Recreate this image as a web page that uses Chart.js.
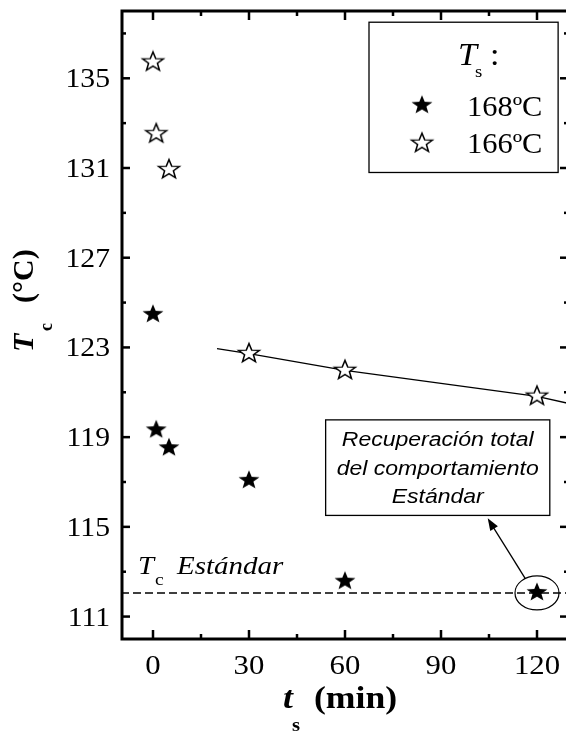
<!DOCTYPE html>
<html>
<head>
<meta charset="utf-8">
<script src="https://cdn.jsdelivr.net/npm/chart.js@4.4.1/dist/chart.umd.min.js"></script>
<style>
  html, body { margin: 0; padding: 0; background: #fff; overflow: hidden; }
  #wrap { position: absolute; left: 0; top: 0; width: 580px; height: 731px; }
</style>
</head>
<body>
<div id="wrap"><canvas id="c" width="580" height="731"></canvas></div>
<script>
// ---- data ----
const tsFilled = [0, 1, 5, 30, 60, 120];                 // Ts = 168 ºC
const tcFilled = [124.5, 119.35, 118.55, 117.1, 112.6, 112.1];
const tsOpen = [0, 1, 5, 30, 60, 120];                   // Ts = 166 ºC
const tcOpen = [135.75, 132.55, 130.95, 122.75, 122.0, 120.85];
const fitTs = [20, 30, 60, 120, 130];                    // trend line through 166 ºC points
const fitTc = [122.95, 122.72, 121.98, 120.82, 120.5];
const standardTc = 112.05;                              // Tc Estándar
const xTicks = [0, 30, 60, 90, 120];
const xMinorTicks = [15, 45, 75, 105];
const yTicks = [111, 115, 119, 123, 127, 131, 135];
const yMinorTicks = [113, 117, 121, 125, 129, 133, 137];
const xMin = -10, xMax = 130, yMin = 110, yMax = 138;
const seriesLabels = ['168ºC', '166ºC'];
const noteLines = ['Recuperación total', 'del comportamiento', 'Estándar'];

const SERIF = '"Liberation Serif", "Times New Roman", serif';
const SANS = '"Liberation Sans", Arial, sans-serif';

function starPath(g, R, r) {
  g.beginPath();
  for (let i = 0; i < 10; i++) {
    const a = -Math.PI / 2 + i * Math.PI / 5;
    const rad = i % 2 ? r : R;
    g.lineTo(rad * Math.cos(a), rad * Math.sin(a));
  }
  g.closePath();
}
function makeStar(filled) {
  const c = document.createElement('canvas');
  c.width = 26; c.height = 24;
  const g = c.getContext('2d');
  g.translate(13, 12.5);
  g.scale(1.1, 1);
  starPath(g, 10, 4.2);
  if (filled) { g.fillStyle = '#000'; g.fill(); }
  else { g.fillStyle = '#fff'; g.fill(); g.lineWidth = 1.4; g.strokeStyle = '#000'; g.stroke(); }
  return c;
}
const starFilled = makeStar(true);
const starOpen = makeStar(false);

function txt(ctx, s, x, y, font, align, sx) {
  ctx.save();
  ctx.font = font;
  ctx.textAlign = align || 'left';
  ctx.textBaseline = 'alphabetic';
  ctx.fillStyle = '#000';
  ctx.translate(x, y);
  ctx.scale(sx || 1, 1);
  ctx.fillText(s, 0, 0);
  ctx.restore();
}

const decor = {
  id: 'decor',
  afterDraw(chart) {
    const ctx = chart.ctx;
    const a = chart.chartArea;
    const xs = chart.scales.x, ys = chart.scales.y;
    const px = v => xs.getPixelForValue(v);
    const py = v => ys.getPixelForValue(v);
    ctx.save();
    ctx.strokeStyle = '#000';
    ctx.fillStyle = '#000';

    // inward ticks on all four sides
    ctx.lineWidth = 2.5;
    const tick = (x1, y1, x2, y2) => { ctx.beginPath(); ctx.moveTo(x1, y1); ctx.lineTo(x2, y2); ctx.stroke(); };
    xTicks.forEach(v => { const x = px(v); tick(x, a.bottom, x, a.bottom - 9); tick(x, a.top, x, a.top + 9); });
    xMinorTicks.forEach(v => { const x = px(v); tick(x, a.bottom, x, a.bottom - 5); tick(x, a.top, x, a.top + 5); });
    yTicks.forEach(v => { const y = py(v); tick(a.left, y, a.left + 9, y); tick(a.right, y, a.right - 9, y); });
    yMinorTicks.forEach(v => { const y = py(v); tick(a.left, y, a.left + 5, y); tick(a.right, y, a.right - 5, y); });

    // frame
    ctx.lineWidth = 3;
    ctx.strokeRect(a.left + 1, a.top, a.right - a.left - 1, a.bottom - a.top);

    // tick labels
    xs.ticks.forEach(t => txt(ctx, String(t.value), px(t.value), a.bottom + 35, '27px ' + SERIF, 'center', 1.14));
    ys.ticks.forEach(t => txt(ctx, String(t.value), a.left - 11, py(t.value) + 9, '27px ' + SERIF, 'right', 1.1));

    // axis titles
    txt(ctx, 't', 283, 708, 'bold italic 31px ' + SERIF, 'left', 1.15);
    txt(ctx, 's', 292, 731, 'bold 18px ' + SERIF, 'left', 1.15);
    txt(ctx, '(min)', 314, 708, 'bold 31px ' + SERIF, 'left', 1.15);

    ctx.save();
    ctx.translate(33, 352);
    ctx.rotate(-Math.PI / 2);
    txt(ctx, 'T', 0, 0, 'bold italic 30px ' + SERIF, 'left', 1);
    txt(ctx, 'c', 21, 19, 'bold 18px ' + SERIF, 'left', 1);
    txt(ctx, '(°C)', 49, 0, 'bold 30px ' + SERIF, 'left', 1);
    ctx.restore();

    // Tc Estándar label
    const ly = py(standardTc);
    txt(ctx, 'T', 138, ly - 19, 'italic 25px ' + SERIF, 'left', 1.15);
    txt(ctx, 'c', 155, ly - 8, '17px ' + SERIF, 'left', 1.15);
    txt(ctx, 'Estándar', 177, ly - 19, 'italic 25px ' + SERIF, 'left', 1.16);

    // ellipse around recovered point
    const ex = px(tsFilled[5]), ey = py(tcFilled[5]) + 1;
    ctx.lineWidth = 1.2;
    ctx.beginPath();
    ctx.ellipse(ex, ey, 22, 17, 0, 0, Math.PI * 2);
    ctx.stroke();

    // annotation box
    const bx1 = px(53.95), bx2 = px(124.0), by1 = py(119.77), by2 = py(115.51);
    ctx.lineWidth = 1.3;
    ctx.strokeRect(bx1, by1, bx2 - bx1, by2 - by1);
    const cx = (bx1 + bx2) / 2;
    txt(ctx, noteLines[0], cx, by1 + 26, 'italic 20px ' + SANS, 'center', 1.15);
    txt(ctx, noteLines[1], cx, by1 + 55, 'italic 20px ' + SANS, 'center', 1.15);
    txt(ctx, noteLines[2], cx, by1 + 83, 'italic 20px ' + SANS, 'center', 1.15);

    // arrow
    const tx = px(116.4), ty = py(112.68), hx = px(104.6), hy = py(115.38);
    const dx = hx - tx, dy = hy - ty, L = Math.hypot(dx, dy), ux = dx / L, uy = dy / L;
    ctx.lineWidth = 1.3;
    ctx.beginPath(); ctx.moveTo(tx, ty); ctx.lineTo(hx - ux * 8, hy - uy * 8); ctx.stroke();
    ctx.beginPath();
    ctx.moveTo(hx, hy);
    ctx.lineTo(hx - ux * 12 - uy * 4.5, hy - uy * 12 + ux * 4.5);
    ctx.lineTo(hx - ux * 12 + uy * 4.5, hy - uy * 12 - ux * 4.5);
    ctx.closePath(); ctx.fill();

    // legend box
    const lx1 = px(67.5), lx2 = px(126.6), ly1 = py(137.5), ly2 = py(130.8);
    ctx.lineWidth = 1.3;
    ctx.fillStyle = '#fff';
    ctx.fillRect(lx1, ly1, lx2 - lx1, ly2 - ly1);
    ctx.strokeRect(lx1, ly1, lx2 - lx1, ly2 - ly1);
    ctx.fillStyle = '#000';
    txt(ctx, 'T', lx1 + 89, ly1 + 43, 'italic 31px ' + SERIF, 'left', 1.1);
    txt(ctx, 's', lx1 + 106, ly1 + 55, '17px ' + SERIF, 'left', 1.1);
    txt(ctx, ':', lx1 + 121, ly1 + 43, '31px ' + SERIF, 'left', 1.1);
    ctx.drawImage(starFilled, lx1 + 53 - 13, ly1 + 83 - 12.5);
    ctx.drawImage(starOpen, lx1 + 53 - 13, ly1 + 121 - 12.5);
    txt(ctx, seriesLabels[0], lx1 + 98, ly1 + 94, '29px ' + SERIF, 'left', 1.05);
    txt(ctx, seriesLabels[1], lx1 + 98, ly1 + 131, '29px ' + SERIF, 'left', 1.05);

    ctx.restore();
  }
};

const toXY = (xs, ys) => xs.map((x, i) => ({ x, y: ys[i] }));

new Chart(document.getElementById('c'), {
  type: 'scatter',
  data: {
    datasets: [
      {
        label: seriesLabels[0], data: toXY(tsFilled, tcFilled),
        pointStyle: starFilled, pointRadius: 10, showLine: false, order: 0
      },
      {
        label: seriesLabels[1], data: toXY(tsOpen, tcOpen),
        pointStyle: starOpen, pointRadius: 10, showLine: false, order: 0
      },
      {
        label: 'fit', data: toXY(fitTs, fitTc), showLine: true,
        borderColor: '#000', borderWidth: 1.3, pointRadius: 0, tension: 0, order: 1
      },
      {
        label: 'std', data: [{ x: xMin, y: standardTc }, { x: xMax, y: standardTc }], showLine: true,
        borderColor: '#000', borderWidth: 1.4, borderDash: [8, 4], pointRadius: 0, order: 1
      }
    ]
  },
  options: {
    responsive: false,
    animation: false,
    devicePixelRatio: 1,
    layout: { padding: { top: 9, right: 8, left: 0, bottom: 0 } },
    plugins: { legend: { display: false }, tooltip: { enabled: false } },
    scales: {
      x: {
        type: 'linear', min: xMin, max: xMax,
        grid: { display: false }, border: { display: false },
        ticks: { display: false },
        afterBuildTicks: s => { s.ticks = xTicks.map(v => ({ value: v })); },
        afterFit: s => { s.height = 92; }
      },
      y: {
        type: 'linear', min: yMin, max: yMax,
        grid: { display: false }, border: { display: false },
        ticks: { display: false },
        afterBuildTicks: s => { s.ticks = yTicks.map(v => ({ value: v })); },
        afterFit: s => { s.width = 121; }
      }
    }
  },
  plugins: [decor]
});
</script>
</body>
</html>
